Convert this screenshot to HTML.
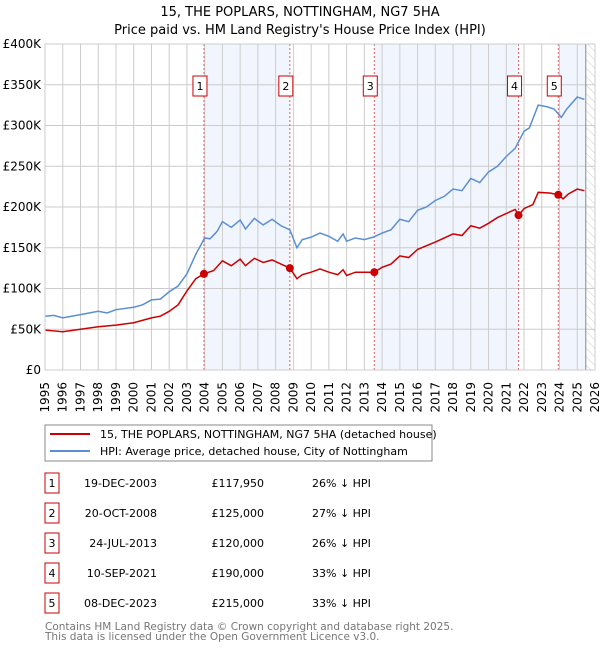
<!DOCTYPE html>
<html><head><meta charset="utf-8"><style>
body{margin:0;background:#fff;font-family:"DejaVu Sans","Liberation Sans",sans-serif;}
svg text{font-family:"DejaVu Sans","Liberation Sans",sans-serif;}
</style></head><body>
<svg id="c" width="600" height="650" xmlns="http://www.w3.org/2000/svg">
<defs><pattern id="hatch" width="6" height="6" patternUnits="userSpaceOnUse" patternTransform="rotate(-45)"><line x1="0" y1="0" x2="0" y2="6" stroke="#ccc" stroke-width="1"/></pattern></defs>
<text x="300" y="16" text-anchor="middle" font-size="13">15, THE POPLARS, NOTTINGHAM, NG7 5HA</text>
<text x="300" y="34" text-anchor="middle" font-size="13">Price paid vs. HM Land Registry's House Price Index (HPI)</text>
<g id="plot"></g>
<rect x="45" y="425" width="387" height="36" fill="#fff" stroke="#888"/>
<line x1="50" y1="434" x2="90" y2="434" stroke="#cc0000" stroke-width="2"/>
<text x="100" y="438" font-size="11">15, THE POPLARS, NOTTINGHAM, NG7 5HA (detached house)</text>
<line x1="50" y1="451" x2="90" y2="451" stroke="#5b8fd4" stroke-width="2"/>
<text x="100" y="455" font-size="11">HPI: Average price, detached house, City of Nottingham</text>
<g id="table"></g>
<text x="45" y="630" font-size="10.5" fill="#777">Contains HM Land Registry data © Crown copyright and database right 2025.</text>
<text x="45" y="640" font-size="10.5" fill="#777">This data is licensed under the Open Government Licence v3.0.</text>
</svg>
<script>
const hpiYears=[1995,1995.5,1996,1997,1998,1998.5,1999,2000,2000.5,2001,2001.5,2002,2002.5,2003,2003.5,2004,2004.3,2004.7,2005,2005.5,2006,2006.3,2006.8,2007.3,2007.8,2008.3,2008.8,2009.2,2009.5,2010,2010.5,2011,2011.5,2011.8,2012,2012.5,2013,2013.5,2014,2014.5,2015,2015.5,2016,2016.5,2017,2017.5,2018,2018.5,2019,2019.5,2020,2020.5,2021,2021.5,2022,2022.3,2022.8,2023.3,2023.7,2024.1,2024.4,2025,2025.4];
const hpiValues=[66,67,64,68,72,70,74,77,80,86,87,96,103,118,142,162,161,170,182,175,184,173,186,178,185,177,172,150,160,163,168,164,158,167,158,162,160,163,168,172,185,182,196,200,208,213,222,220,235,230,243,250,262,272,293,297,325,323,320,310,320,335,332];
const propYears=[1995,1996,1997,1998,1999,2000,2001,2001.5,2002,2002.5,2003,2003.5,2003.96,2004.5,2005,2005.5,2006,2006.3,2006.8,2007.3,2007.8,2008.3,2008.8,2009.2,2009.5,2010,2010.5,2011,2011.5,2011.8,2012,2012.5,2013.56,2014,2014.5,2015,2015.5,2016,2017,2018,2018.5,2019,2019.5,2020,2020.5,2021.5,2021.7,2022,2022.5,2022.8,2023.5,2023.93,2024.2,2024.5,2025,2025.4];
const propValues=[49,47,50,53,55,58,64,66,72,80,97,112,118,122,134,128,136,128,137,132,135,130,125,112,117,120,124,120,117,123,116,120,120,126,130,140,138,148,157,167,165,177,174,180,187,197,190,198,203,218,217,215,210,216,222,220];
const saleLabels=["1","2","3","4","5"];
const saleYears=[2003.96,2008.8,2013.56,2021.69,2023.93];
const saleValues=[117.95,125,120,190,215];
const saleDates=["19-DEC-2003","20-OCT-2008","24-JUL-2013","10-SEP-2021","08-DEC-2023"];
const salePrices=["£117,950","£125,000","£120,000","£190,000","£215,000"];
const saleHpi=["26% ↓ HPI","27% ↓ HPI","26% ↓ HPI","33% ↓ HPI","33% ↓ HPI"];
const yTicks=[0,50,100,150,200,250,300,350,400];
const yTickLabels=["£0","£50K","£100K","£150K","£200K","£250K","£300K","£350K","£400K"];
const dataEnd=2025.48;

const L=45,R=595,T=44,B=370,X0=1995,X1=2026;
const X=v=>L+(v-X0)/(X1-X0)*(R-L);
const Y=v=>B-v/400*(B-T);
const NS="http://www.w3.org/2000/svg";
const plot=document.getElementById('plot');
function mk(tag,attrs,parent){const e=document.createElementNS(NS,tag);for(const k in attrs)e.setAttribute(k,attrs[k]);(parent||plot).appendChild(e);return e;}

for(let i=0;i<saleYears.length;i+=2){
  const x1=X(saleYears[i]),x2=i+1<saleYears.length?X(saleYears[i+1]):X(dataEnd);
  const r=mk('rect',{x:x1,y:T,width:x2-x1,height:B-T,fill:'#eef3fc',opacity:0.8});
  
  
}
const h=mk('rect',{x:X(dataEnd),y:T,width:R-X(dataEnd),height:B-T,fill:'url(#hatch)'});


for(let yr=X0;yr<=X1;yr++){
  const g=mk('line',{x1:X(yr),x2:X(yr),y1:T,y2:B,stroke:'#ccc','stroke-width':1});
  
  
  const t=mk('text',{x:0,y:0,'font-size':12,'text-anchor':'end',transform:`translate(${X(yr)+4},382) rotate(-90)`});
  t.textContent=yr;
  
  
}
yTicks.forEach((v,i)=>{
  const g=mk('line',{x1:L,x2:R,y1:Y(v),y2:Y(v),stroke:'#ccc','stroke-width':1});
  
  
  const t=mk('text',{x:41,y:Y(v)+4,'font-size':12,'text-anchor':'end'});
  t.textContent=yTickLabels[i];
  
  
});
const de=mk('line',{x1:X(dataEnd),x2:X(dataEnd),y1:T,y2:B,stroke:'#888','stroke-width':1});


saleYears.forEach(s=>{
  const l=mk('line',{x1:X(s),x2:X(s),y1:T,y2:B,stroke:'#e06060','stroke-width':1,'stroke-dasharray':'2,2'});
  
  
});
const hp=mk('polyline',{points:hpiYears.map((y,i)=>X(y)+','+Y(hpiValues[i])).join(' '),fill:'none',stroke:'#5b8fd4','stroke-width':1.5});


const pp=mk('polyline',{points:propYears.map((y,i)=>X(y)+','+Y(propValues[i])).join(' '),fill:'none',stroke:'#cc0000','stroke-width':1.5});


saleYears.forEach((s,i)=>{
  const c=mk('circle',{cx:X(s),cy:Y(saleValues[i]),r:4,fill:'#cc0000'});
  
  
  const b=mk('rect',{x:X(s)-11,y:76,width:14,height:20,fill:'#fff',stroke:'#cc0000'});
  
  
  const t=mk('text',{x:X(s)-4,y:90,'font-size':11,'text-anchor':'middle'});
  t.textContent=saleLabels[i];
  
  
});
const fr=mk('rect',{x:L,y:T,width:R-L,height:B-T,fill:'none',stroke:'#ccc'});


const tb=document.getElementById('table');
saleLabels.forEach((lb,i)=>{
  const y=483+i*30;
  const b=mk('rect',{x:45,y:y-10,width:14,height:20,fill:'#fff',stroke:'#cc0000'},tb);
  
  
  const vals=[[52,lb,'middle'],[157,saleDates[i],'end'],[264,salePrices[i],'end'],[312,saleHpi[i],'start']];
  const names=['table-index','table-date','table-price','table-hpi-diff'];
  vals.forEach((v,j)=>{
    const t=mk('text',{x:v[0],y:y+4,'font-size':11,'text-anchor':v[2]},tb);
    t.textContent=v[1];
    
    
  });
});
</script>
</body></html>
